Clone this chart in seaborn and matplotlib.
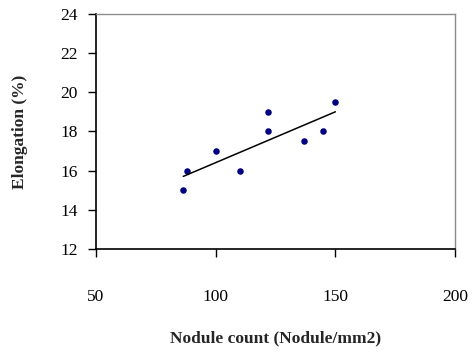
import matplotlib
matplotlib.use("Agg")
import matplotlib.pyplot as plt
import pandas as pd
import seaborn as sns

# values
nodule_count = [86.5, 88, 100, 110, 122, 122, 137, 145, 150]
elongation = [15.0, 16.0, 17.0, 16.0, 19.0, 18.0, 17.5, 18.0, 19.5]
x_ticks = [50, 100, 150, 200]
y_ticks = [12, 14, 16, 18, 20, 22, 24]

df = pd.DataFrame({"nodule": nodule_count, "elong": elongation})

sns.set_style("white")
plt.rcParams["font.family"] = ["Liberation Serif", "DejaVu Serif"]

fig = plt.figure(figsize=(4.75, 3.52), dpi=100)
ax = fig.add_axes([0.202, 0.293, 0.756, 0.667])

sns.regplot(data=df, x="nodule", y="elong", ci=None, ax=ax,
            scatter_kws={"color": "#000080", "s": 22, "linewidths": 0, "alpha": 1},
            line_kws={"color": "black", "linewidth": 1.1})

ax.set_xlim(50, 200)
ax.set_ylim(12, 24)
ax.set_xticks(x_ticks)
ax.set_yticks(y_ticks)

for side in ["left", "bottom"]:
    ax.spines[side].set_color("black")
    ax.spines[side].set_linewidth(1.2)
for side in ["top", "right"]:
    ax.spines[side].set_color("#8c8c8c")
    ax.spines[side].set_linewidth(1.0)

ax.tick_params(axis="x", direction="out", length=6, width=1, pad=23,
               labelsize=12.5, bottom=True, colors="black")
ax.tick_params(axis="y", direction="out", length=6, width=1, pad=7,
               labelsize=12.5, left=True, colors="black")

ax.set_xlabel("Nodule count (Nodule/mm2)", fontsize=12.5, fontweight="bold", labelpad=18)
ax.set_ylabel("Elongation (%)", fontsize=12.5, fontweight="bold", labelpad=23)

fig.savefig("out.png", dpi=100)
plt.close()
